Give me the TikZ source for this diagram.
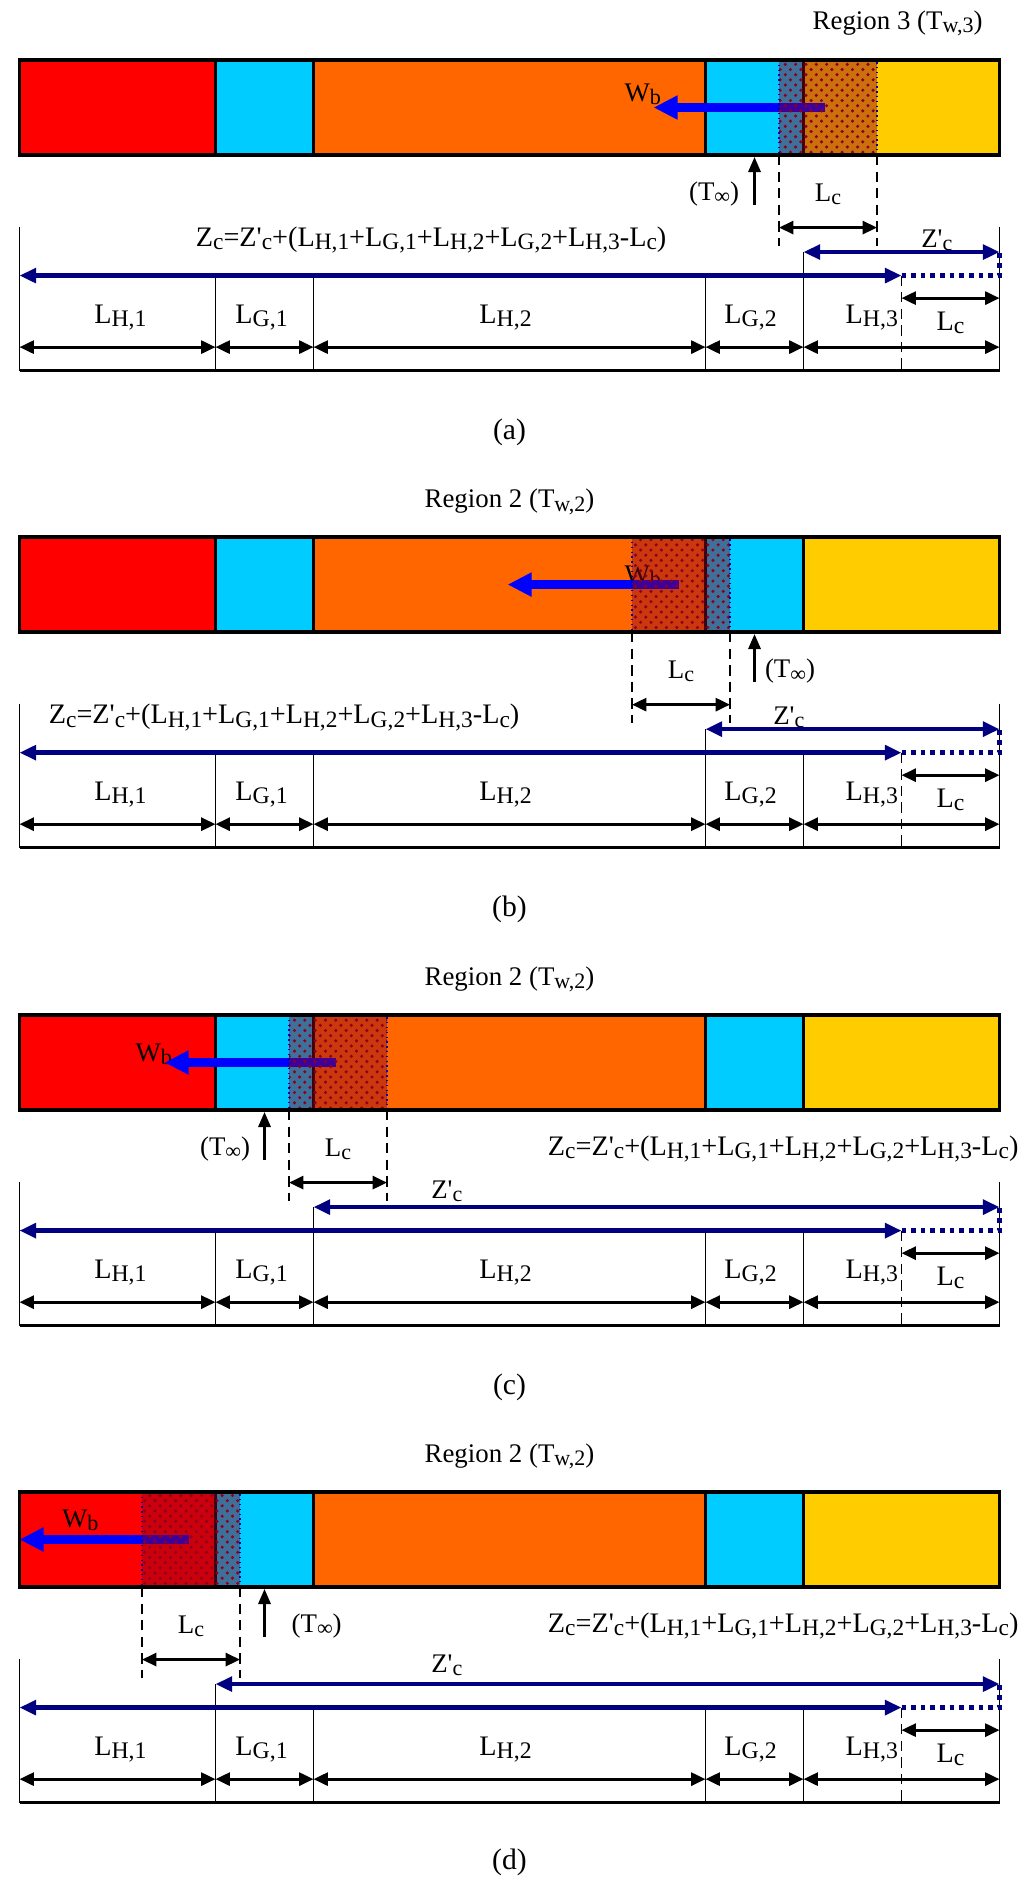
\documentclass[tikz,border=0pt]{standalone}
\usepackage{fontspec}
\setmainfont{Liberation Serif}
\usetikzlibrary{arrows.meta,patterns}

\definecolor{hotred}{RGB}{255,0,0}
\definecolor{skycyan}{RGB}{0,204,255}
\definecolor{deeporange}{RGB}{255,102,0}
\definecolor{goldyellow}{RGB}{255,204,0}
\definecolor{navyline}{RGB}{0,0,128}
\definecolor{wbblue}{RGB}{0,0,255}
\definecolor{hatchred}{RGB}{140,0,30}

\newcommand{\subtx}[1]{\raisebox{-0.12em}{\fontsize{6.4}{7}\selectfont #1}}
\newcommand{\Ls}[1]{L\subtx{#1}}
\newcommand{\seglbl}[1]{{\fontsize{8.2}{9}\selectfont L\raisebox{-0.12em}{\fontsize{6.9}{7}\selectfont #1}}}
\newcommand{\fsub}[1]{\raisebox{-0.12em}{\fontsize{6.8}{7}\selectfont #1}}
\newcommand{\zprime}{Z\textquotesingle\subtx{c}}
\newcommand{\zform}{{\fontsize{8.2}{9}\selectfont Z\fsub{c}=Z\textquotesingle\fsub{c}+(L\fsub{H,1}+L\fsub{G,1}+L\fsub{H,2}+L\fsub{G,2}+L\fsub{H,3}-L\fsub{c})}}

\tikzset{
  dim/.style={line width=0.8pt, {Triangle[length=4.2pt,width=3.8pt]}-{Triangle[length=4.2pt,width=3.8pt]}},
  navydim/.style={navyline, line width=1.3pt, {Triangle[length=4.8pt,width=4.2pt]}-{Triangle[length=4.8pt,width=4.2pt]}},
  navydots/.style={navyline, line width=1.3pt, dash pattern=on 1.3pt off 1.5pt},
  guide/.style={line width=0.5pt, dash pattern=on 3pt off 1.8pt},
  tick/.style={line width=0.45pt},
  divider/.style={line width=0.6pt},
  baredge/.style={line width=1pt},
  tinf/.style={line width=0.7pt, -{Triangle[length=4.4pt,width=3.6pt]}},
  wbarrow/.style={wbblue, line width=2.6pt, -{Triangle[length=7pt,width=6.6pt]}},
  hatch/.style={fill=hatchred, fill opacity=0.45},
  hatchdots/.style={pattern=crosshatch dots, pattern color=hatchred},
  hatchedge/.style={draw=blue!70!black, line width=0.4pt, densely dotted},
  caption/.style={font=\fontsize{8.6}{10}\selectfont},
}

% coloured bar, 2:1:4:1:2
\newcommand{\drawbar}{%
  \fill[hotred] (0,0) rectangle (2,-0.97);
  \fill[skycyan] (2,0) rectangle (3,-0.97);
  \fill[deeporange] (3,0) rectangle (7,-0.97);
  \fill[skycyan] (7,0) rectangle (8,-0.97);
  \fill[goldyellow] (8,0) rectangle (10,-0.97);
  \foreach \x in {2,3,7,8} \draw[divider] (\x,0) -- (\x,-0.97);
}

% hatched zone of length Lc starting at #1
\newcommand{\drawhatch}[1]{%
  \fill[hatch] (#1,0) rectangle ++(1,-0.97);
  \fill[hatchdots] (#1,0) rectangle ++(1,-0.97);
  \draw[hatchedge] (#1,0) rectangle ++(1,-0.97);
  \draw[baredge] (0,0) rectangle (10,-0.97);
  \draw[guide] (#1,-0.97) -- (#1,-1.90);
  \draw[guide] (#1+1,-0.97) -- (#1+1,-1.90);
  \draw[dim] (#1,-1.71) -- (#1+1,-1.71);
  \node (lc) at (#1+0.5,-1.37) {\Ls{c}};
}

% lengths below the bar, Z'c starting at #1
\newcommand{\drawscale}[1]{%
  \draw[tick] (0,-1.70) -- (0,-3.17);
  \draw[tick] (10,-1.70) -- (10,-3.17);
  \draw[line width=0.8pt] (0,-3.17) -- (10,-3.17);
  \foreach \x in {2,3,7,8} \draw[tick] (\x,-2.20) -- (\x,-3.17);
  \draw[tick] (#1,-1.96) -- (#1,-2.20);
  \draw[guide] (9,-2.20) -- (9,-3.17);
  \foreach \a/\b in {0/2,2/3,3/7,7/8,8/10} \draw[dim] (\a,-2.93) -- (\b,-2.93);
  \draw[dim] (9,-2.43) -- (10,-2.43);
  \node (lh1) at (1.03,-2.63) {\seglbl{H,1}};
  \node (lg1) at (2.47,-2.63) {\seglbl{G,1}};
  \node (lh2) at (4.96,-2.63) {\seglbl{H,2}};
  \node (lg2) at (7.46,-2.63) {\seglbl{G,2}};
  \node[anchor=east] (lh3) at (8.97,-2.63) {\seglbl{H,3}};
  \node (lcz) at (9.5,-2.68) {\seglbl{c}};
  \draw[navydim] (0,-2.20) -- (9,-2.20);
  \draw[navydots] (9,-2.20) -- (10,-2.20) -- (10,-1.96);
  \draw[navydim] (#1,-1.96) -- (10,-1.96);
}

\begin{document}
\begin{tikzpicture}[font=\fontsize{7.8}{9}\selectfont, every node/.append style={inner sep=0pt}]
    \useasboundingbox (-0.199,0) rectangle (10.25,-19.214);

    % (a)
    \begin{scope}[yshift=-0.612cm]
        \drawbar
        \node (wbA) at (6.36,-0.35) {W\subtx{b}};
        \draw[wbarrow] (8.22,-0.485) -- (6.47,-0.485);
        \drawhatch{7.75}
        \node (titleA) at (8.96,0.37) {Region 3 (T\subtx{w,3})};
        \draw[tinf] (7.5,-1.48) -- (7.5,-0.99);
        \node[anchor=east] (tinfA) at (7.35,-1.37) {(T\subtx{∞})};
        \node (zformA) at (4.2,-1.84) {\zform};
        \drawscale{8}
        \node (zpA) at (9.36,-1.84) {\zprime};
        \node[caption] (capA) at (5,-3.80) {(a)};
    \end{scope}

    % (b)
    \begin{scope}[yshift=-5.480cm]
        \drawbar
        \node (wbB) at (6.36,-0.40) {W\subtx{b}};
        \draw[wbarrow] (6.73,-0.485) -- (4.98,-0.485);
        \drawhatch{6.25}
        \node (titleB) at (5,0.36) {Region 2 (T\subtx{w,2})};
        \draw[tinf] (7.5,-1.48) -- (7.5,-0.99);
        \node[anchor=west] (tinfB) at (7.6,-1.37) {(T\subtx{∞})};
        \node (zformB) at (2.7,-1.84) {\zform};
        \drawscale{7}
        \node (zpB) at (7.85,-1.84) {\zprime};
        \node[caption] (capB) at (5,-3.80) {(b)};
    \end{scope}

    % (c)
    \begin{scope}[yshift=-10.357cm]
        \drawbar
        \node (wbC) at (1.37,-0.40) {W\subtx{b}};
        \draw[wbarrow] (3.23,-0.485) -- (1.48,-0.485);
        \drawhatch{2.75}
        \node (titleC) at (5,0.36) {Region 2 (T\subtx{w,2})};
        \draw[tinf] (2.5,-1.48) -- (2.5,-0.99);
        \node[anchor=east] (tinfC) at (2.36,-1.37) {(T\subtx{∞})};
        \node[anchor=east] (zformC) at (10.2,-1.37) {\zform};
        \drawscale{3}
        \node (zpC) at (4.36,-1.80) {\zprime};
        \node[caption] (capC) at (5,-3.80) {(c)};
    \end{scope}

    % (d)
    \begin{scope}[yshift=-15.224cm]
        \drawbar
        \node (wbD) at (0.62,-0.29) {W\subtx{b}};
        \draw[wbarrow] (1.73,-0.485) -- (0.0,-0.485);
        \drawhatch{1.25}
        \node (titleD) at (5,0.36) {Region 2 (T\subtx{w,2})};
        \draw[tinf] (2.5,-1.48) -- (2.5,-0.99);
        \node[anchor=west] (tinfD) at (2.77,-1.37) {(T\subtx{∞})};
        \node[anchor=east] (zformD) at (10.2,-1.37) {\zform};
        \drawscale{2}
        \node (zpD) at (4.36,-1.77) {\zprime};
        \node[caption] (capD) at (5,-3.78) {(d)};
    \end{scope}
\end{tikzpicture}
\end{document}
